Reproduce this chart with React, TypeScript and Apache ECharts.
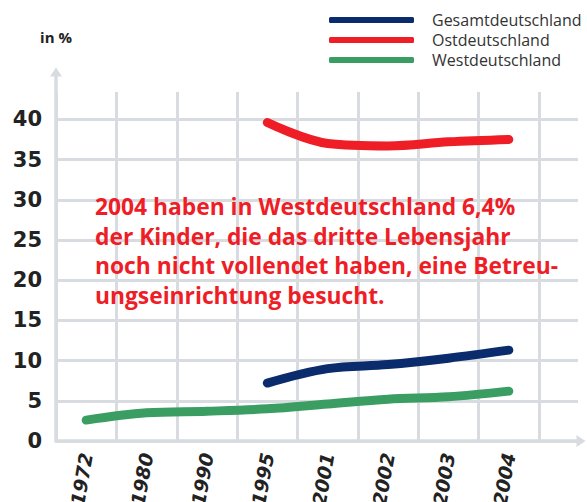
import React, { useEffect, useRef } from "react";
import * as echarts from "echarts";

const years = ["1972", "1980", "1990", "1995", "2001", "2002", "2003", "2004"];
const gesamt = [null, null, null, 7.2, 9.0, 9.5, 10.3, 11.3];
const ost = [null, null, null, 39.6, 37.0, 36.7, 37.2, 37.5];
const west = [2.6, 3.5, 3.7, 4.0, 4.6, 5.2, 5.5, 6.2];
const yTicks = { min: 0, max: 43.4, interval: 5 };
const note =
  "2004 haben in Westdeutschland 6,4%\nder Kinder, die das dritte Lebensjahr\nnoch nicht vollendet haben, eine Betreu-\nungseinrichtung besucht.";

const FONT = "'Open Sans', 'Noto Sans', sans-serif";
const NUMFONT = "'DejaVu Sans', sans-serif";
const GRID = "#d8dbe0";

export default function App() {
  const ref = useRef<HTMLDivElement>(null);
  useEffect(() => {
    document.body.style.margin = "0";
    if (!ref.current) return;
    const chart = echarts.init(ref.current, null, { renderer: "svg" });
    const lineSeries = (name: string, data: any[], color: string) => ({
      name,
      type: "line",
      xAxisIndex: 1,
      yAxisIndex: 1,
      data,
      smooth: 0.35,
      showSymbol: false,
      symbol: "none",
      color,
      lineStyle: { width: 9, color, cap: "round", join: "round" },
      z: 5,
    });
    const gridBase = { bottom: 61, containLabel: false, outerBoundsMode: "none" };
    chart.setOption({
      animation: false,
      textStyle: { fontFamily: FONT },
      grid: [
        { ...gridBase, left: 56, right: 9, top: 92 },
        { ...gridBase, left: 56, right: 48, top: 92 },
        { ...gridBase, left: 56, right: 6, top: 72 },
      ],
      legend: {
        orient: "vertical",
        left: 324,
        top: 5,
        itemGap: 0,
        icon: "roundRect",
        itemWidth: 85,
        itemHeight: 6,
        data: ["Gesamtdeutschland", "Ostdeutschland", "Westdeutschland"],
        textStyle: {
          fontFamily: FONT,
          fontSize: 16,
          color: "#333",
          lineHeight: 20,
          padding: [0, 0, 0, 13],
        },
      },
      xAxis: [
        {
          gridIndex: 0,
          type: "value",
          min: 0,
          max: 1,
          show: false,
        },
        {
          gridIndex: 1,
          type: "category",
          data: years,
          boundaryGap: true,
          axisLine: { show: false },
          axisTick: { show: false },
          splitLine: { show: true, lineStyle: { color: GRID, width: 3 } },
          axisLabel: {
            rotate: 80,
            margin: 12,
            fontSize: 19,
            fontWeight: "bold",
            fontStyle: "italic",
            color: "#222",
            fontFamily: NUMFONT,
          },
        },
        {
          gridIndex: 2,
          type: "value",
          min: 0,
          max: 1,
          axisLine: {
            show: true,
            symbol: ["none", "triangle"],
            symbolSize: [12, 9],
            lineStyle: { color: GRID, width: 3.5 },
          },
          axisTick: { show: false },
          axisLabel: { show: false },
          splitLine: { show: false },
        },
      ],
      yAxis: [
        {
          gridIndex: 0,
          type: "value",
          min: yTicks.min,
          max: yTicks.max,
          interval: yTicks.interval,
          name: "in %",
          nameLocation: "end",
          nameGap: 48,
          nameTextStyle: {
            fontSize: 15,
            fontWeight: "bold",
            color: "#222",
            fontFamily: FONT,
            align: "center",
          },
          axisLine: { show: false },
          axisTick: { show: false },
          axisLabel: {
            showMaxLabel: false,
            margin: 14,
            fontSize: 21,
            fontWeight: "bold",
            color: "#222",
            fontFamily: NUMFONT,
          },
          splitLine: {
            show: true,
            showMaxLine: false,
            lineStyle: { color: GRID, width: 3 },
          },
        },
        {
          gridIndex: 1,
          type: "value",
          min: yTicks.min,
          max: yTicks.max,
          interval: yTicks.interval,
          show: false,
          splitLine: { show: false },
        },
        {
          gridIndex: 2,
          type: "value",
          min: 0,
          max: 1,
          axisLine: {
            show: true,
            symbol: ["none", "triangle"],
            symbolSize: [12, 9],
            lineStyle: { color: GRID, width: 3.5 },
          },
          axisTick: { show: false },
          axisLabel: { show: false },
          splitLine: { show: false },
        },
      ],
      graphic: [
        {
          type: "text",
          left: 95,
          top: 192,
          z: 10,
          style: {
            text: note,
            fontFamily: FONT,
            fontSize: 22.8,
            fontWeight: "bold",
            lineHeight: 29.5,
            fill: "#ee1d26",
          },
        },
      ],
      series: [
        lineSeries("Gesamtdeutschland", gesamt, "#0a2c6c"),
        lineSeries("Ostdeutschland", ost, "#ee1d26"),
        lineSeries("Westdeutschland", west, "#3a9e63"),
      ],
    });
    return () => chart.dispose();
  }, []);
  return <div ref={ref} style={{ width: 587, height: 502 }} />;
}
